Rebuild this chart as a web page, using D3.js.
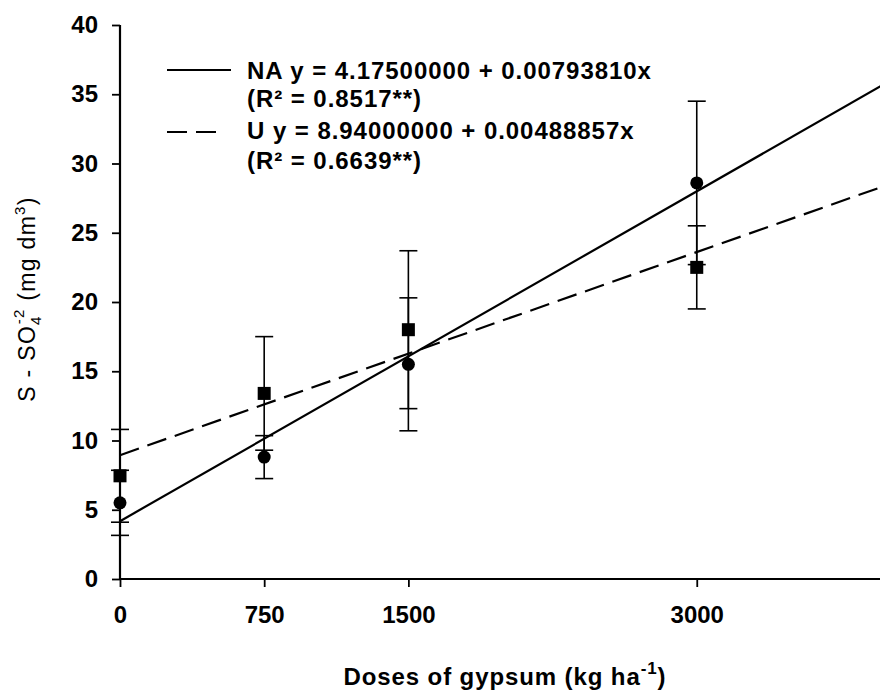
<!DOCTYPE html>
<html>
<head>
<meta charset="utf-8">
<script src="https://cdn.jsdelivr.net/npm/d3@7"></script>
<style>
  body { margin: 0; background: #fff; }
  svg { display: block; font-family: "Liberation Sans", Arial, sans-serif; }
</style>
</head>
<body>
<div id="chart"></div>
<script>
// gypsum doses (kg/ha)
let doses = [0, 750, 1500, 3000];
// NA series (circles): means and error (+/-)
let naMeans = [5.5, 8.8, 15.5, 28.6];
let naErr = [2.35, 1.55, 4.8, 5.9];
// U series (squares)
let uMeans = [7.45, 13.4, 18.0, 22.5];
let uErr = [3.35, 4.1, 5.7, 3.0];
// regression fits
let naFit = {a: 4.175, b: 0.0079381};
let uFit = {a: 8.94, b: 0.00488857};
let legendRows = [
    {label: "NA y = 4.17500000 + 0.00793810x", r2: "(R² = 0.8517**)", dash: null},
    {label: "U y = 8.94000000 + 0.00488857x", r2: "(R² = 0.6639**)", dash: "20,9"}
];
let xTicks = [0, 750, 1500, 3000];
let yTicks = [0, 5, 10, 15, 20, 25, 30, 35, 40];

let width = 880, height = 690;
let svg = d3.select("#chart").append("svg")
    .attr("width", width)
    .attr("height", height);

let x = d3.scaleLinear().domain([0, 4000]).range([120, 889]);
let y = d3.scaleLinear().domain([0, 40]).range([579, 25]);

// axes
let yAxis = svg.append("g")
    .attr("transform", "translate(" + x(0) + ",0)")
    .call(d3.axisLeft(y).tickValues(yTicks).tickFormat(d3.format("d")).tickSize(8).tickPadding(14));
let xAxis = svg.append("g")
    .attr("transform", "translate(0," + y(0) + ")")
    .call(d3.axisBottom(x).tickValues(xTicks).tickFormat(d3.format("d")).tickSize(8).tickPadding(19));
[xAxis, yAxis].forEach(g => {
    g.select(".domain").attr("stroke", "#000").attr("stroke-width", 2.2);
    g.selectAll(".tick line").attr("stroke", "#000").attr("stroke-width", 1.8);
    g.selectAll(".tick text")
        .attr("fill", "#000")
        .style("font-size", "24px")
        .style("font-weight", "bold");
});
yAxis.select(".domain").attr("d", "M0," + y(40) + "V" + y(0));
xAxis.select(".domain").attr("d", "M" + x(0) + ",0H" + x(4000));

// regression lines
let fitLine = (fit) => d3.line()
    .x(d => x(d))
    .y(d => y(fit.a + fit.b * d))([0, 4000]);
svg.append("path")
    .attr("d", fitLine(naFit))
    .attr("fill", "none").attr("stroke", "#000").attr("stroke-width", 2.2);
svg.append("path")
    .attr("d", fitLine(uFit))
    .attr("fill", "none").attr("stroke", "#000").attr("stroke-width", 2.2)
    .attr("stroke-dasharray", "20,9");

// error bars
function errorBars(means, errs) {
    let g = svg.append("g").attr("stroke", "#000").attr("stroke-width", 1.6);
    doses.forEach((d, i) => {
        let cx = x(d), top = y(means[i] + errs[i]), bot = y(means[i] - errs[i]);
        g.append("line").attr("x1", cx).attr("x2", cx).attr("y1", top).attr("y2", bot);
        g.append("line").attr("x1", cx - 9).attr("x2", cx + 9).attr("y1", top).attr("y2", top);
        g.append("line").attr("x1", cx - 9).attr("x2", cx + 9).attr("y1", bot).attr("y2", bot);
    });
}
errorBars(naMeans, naErr);
errorBars(uMeans, uErr);

// markers
svg.selectAll("circle.na")
    .data(naMeans)
    .enter()
    .append("circle")
    .attr("cx", (d, i) => x(doses[i]))
    .attr("cy", d => y(d))
    .attr("r", 6.5)
    .attr("fill", "#000");
svg.selectAll("rect.u")
    .data(uMeans)
    .enter()
    .append("rect")
    .attr("x", (d, i) => x(doses[i]) - 6.5)
    .attr("y", d => y(d) - 6.5)
    .attr("width", 13)
    .attr("height", 13)
    .attr("fill", "#000");

// legend
let rowBase = [[79, 107], [139, 169]];
let lineY = [70, 132];
legendRows.forEach((row, i) => {
    svg.append("line")
        .attr("x1", 167).attr("x2", row.dash ? 224 : 231)
        .attr("y1", lineY[i]).attr("y2", lineY[i])
        .attr("stroke", "#000").attr("stroke-width", 2.2)
        .attr("stroke-dasharray", row.dash);
    svg.append("text")
        .attr("x", 247).attr("y", rowBase[i][0])
        .style("font-size", "24px").style("font-weight", "bold")
        .style("letter-spacing", "0.95px")
        .text(row.label);
    svg.append("text")
        .attr("x", 247).attr("y", rowBase[i][1])
        .style("font-size", "24px").style("font-weight", "bold")
        .style("letter-spacing", "0.95px")
        .text(row.r2);
});

// x title
let xt = svg.append("text")
    .attr("x", 505).attr("y", 685)
    .attr("text-anchor", "middle")
    .style("font-size", "24px").style("font-weight", "bold")
    .style("letter-spacing", "0.9px");
xt.append("tspan").text("Doses of gypsum (kg ha");
xt.append("tspan").attr("dy", -11).style("font-size", "17px").text("-1");
xt.append("tspan").attr("dy", 11).text(")");

// y title
let yt = svg.append("text")
    .attr("transform", "translate(35,299) rotate(-90)")
    .attr("text-anchor", "middle")
    .style("font-size", "23px")
    .style("letter-spacing", "1.3px");
yt.append("tspan").text("S - SO");
yt.append("tspan").attr("dy", 6).style("font-size", "15px").text("4");
yt.append("tspan").attr("dx", -9).attr("dy", -17).style("font-size", "15px").text("-2");
yt.append("tspan").attr("dy", 11).text(" (mg dm");
yt.append("tspan").attr("dy", -10).style("font-size", "15px").text("3");
yt.append("tspan").attr("dy", 10).text(")");
</script>
</body>
</html>
